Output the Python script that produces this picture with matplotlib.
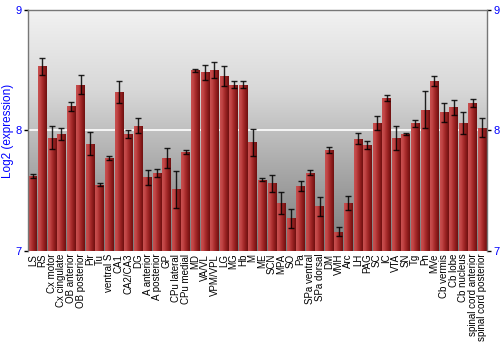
import numpy as np
import matplotlib
matplotlib.use("Agg")
import matplotlib.pyplot as plt
from matplotlib.colors import LinearSegmentedColormap

categories = ["LS", "RS", "Cx motor", "Cx cingulate", "OB anterior", "OB posterior",
              "Pir", "Tu", "ventral S", "CA1", "CA2/CA3", "DG", "A anterior",
              "A posterior", "GP", "CPu lateral", "CPu medial", "MD", "VA/VL",
              "VPM/VPL", "LG", "MG", "Hb", "M", "ME", "SCN", "MPA", "SO", "Pa",
              "SPa ventral", "SPa dorsal", "DM", "VMH", "Arc", "LH", "PAG", "SC",
              "IC", "VTA", "SN", "Tg", "Pn", "MVe", "Cb vermis", "Cb lobe",
              "Cb nucleus", "spinal cord anterior", "spinal cord posterior"]
values = [7.62, 8.53, 7.94, 7.97, 8.20, 8.38, 7.89, 7.55, 7.77, 8.32, 7.97, 8.04,
          7.61, 7.65, 7.77, 7.51, 7.82, 8.50, 8.48, 8.50, 8.45, 8.38, 8.38, 7.90,
          7.59, 7.56, 7.40, 7.27, 7.54, 7.65, 7.37, 7.84, 7.16, 7.40, 7.93, 7.88,
          8.06, 8.27, 7.94, 7.97, 8.06, 8.17, 8.41, 8.15, 8.19, 8.06, 8.23, 8.02]
errors = [0.017, 0.068, 0.094, 0.051, 0.037, 0.080, 0.094, 0.011, 0.017, 0.091,
          0.037, 0.061, 0.061, 0.033, 0.083, 0.155, 0.015, 0.012, 0.061, 0.064,
          0.083, 0.029, 0.028, 0.110, 0.011, 0.070, 0.093, 0.079, 0.043, 0.022,
          0.076, 0.025, 0.040, 0.058, 0.046, 0.036, 0.059, 0.026, 0.100, 0.012,
          0.029, 0.153, 0.040, 0.077, 0.059, 0.090, 0.033, 0.079]
y_ticks = [7, 8, 9]
y_label = "Log2 (expression)"

plt.rcParams['font.family'] = ['Liberation Sans', 'DejaVu Sans']

fig = plt.figure(figsize=(5, 3.5), dpi=100)
ax = fig.add_axes([0.056, 0.283, 0.918, 0.689])

x = np.arange(len(categories))
ymin, ymax = 7, 9
ax.set_xlim(-0.5, len(categories) - 0.5)
ax.set_ylim(ymin, ymax)

# background vertical gradient
bg_cmap = LinearSegmentedColormap.from_list("bg", ["#7a7a7a", "#a8a8a8", "#d8d8d8", "#f2f2f2"])
grad = np.linspace(0, 1, 256).reshape(-1, 1)
ax.imshow(grad, cmap=bg_cmap, origin="lower", aspect="auto",
          extent=[-0.5, len(categories) - 0.5, ymin, ymax], zorder=0)
ax.axhline(8, color="white", lw=1.2, zorder=1)

# bars with horizontal gradient
bar_cmap = LinearSegmentedColormap.from_list(
    "bar", ["#c85050", "#c04444", "#a82c2c", "#8c1c1c", "#6e1010"])
hgrad = np.linspace(0, 1, 64).reshape(1, -1)
bars = ax.bar(x, np.array(values) - ymin, bottom=ymin, width=0.9,
              color="#a83030", edgecolor="none", zorder=2)
for b in bars:
    im = ax.imshow(hgrad, cmap=bar_cmap, aspect="auto",
                   extent=[b.get_x(), b.get_x() + b.get_width(), ymin, ymin + b.get_height()],
                   zorder=2.1)
    im.set_clip_path(b)

ax.errorbar(x, values, yerr=errors, fmt="none", ecolor="black", elinewidth=1,
            capsize=2, capthick=1, alpha=0.85, zorder=3)

ax.set_xticks(x)
ax.set_xticklabels(categories, rotation=90, fontsize=7)
ax.tick_params(axis="x", length=0, pad=2)
ax.set_yticks(y_ticks)
ax.tick_params(axis="y", labelsize=8, labelcolor="blue", length=3, width=1,
               color="black", right=True, labelright=True, pad=1.5)
ax.set_ylabel(y_label, color="blue", fontsize=8.5)
ax.yaxis.set_label_coords(-0.03, 0.5)

for s in ["left", "right", "top"]:
    ax.spines[s].set_color("#777777")
    ax.spines[s].set_linewidth(1)
ax.spines["bottom"].set_visible(False)

fig.savefig("out.png", dpi=100)
